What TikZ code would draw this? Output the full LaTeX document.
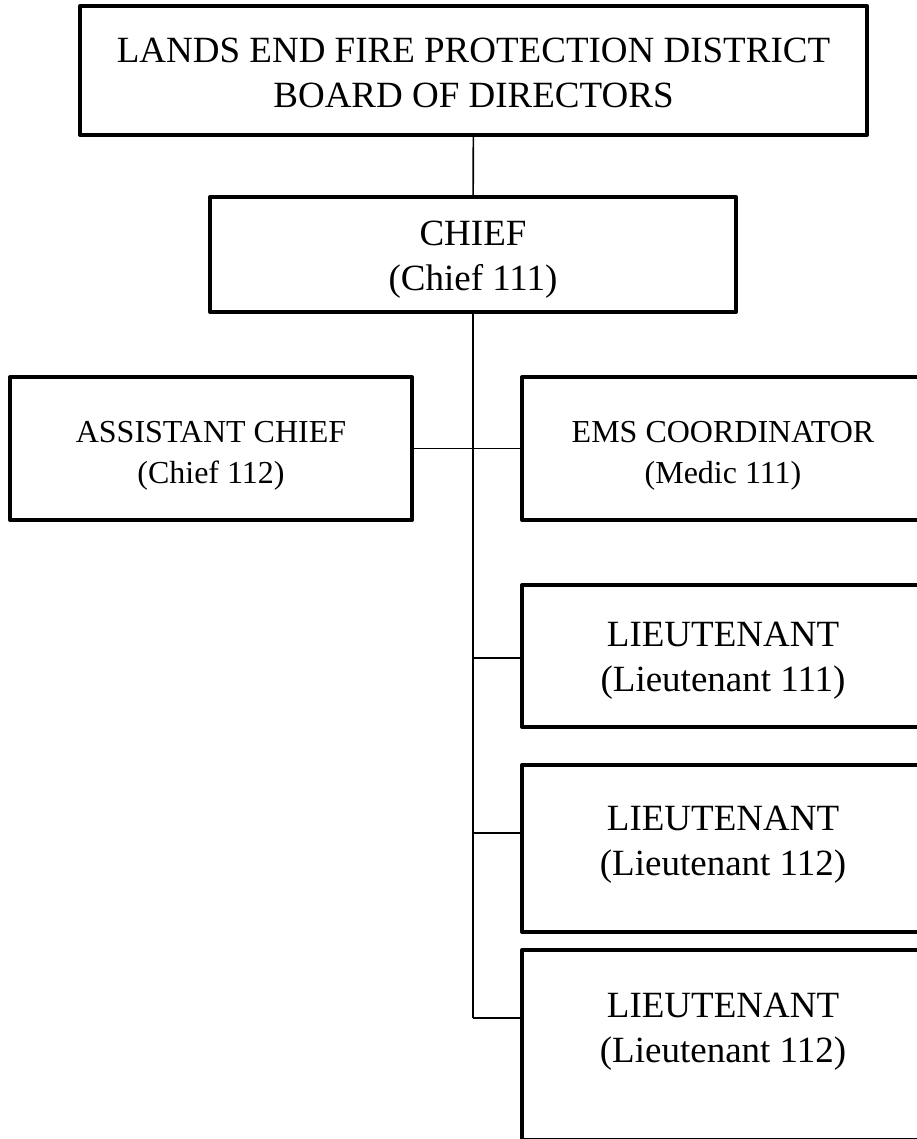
\documentclass[tikz,border=0pt]{standalone}
\usepackage{fontspec}
\setmainfont{Liberation Serif}
\newcommand{\toppad}[1]{\rule{0pt}{#1}}
\newcommand{\lowpad}[1]{\rule[-#1]{0pt}{0pt}}

\begin{document}
\begin{tikzpicture}[x=1pt,y=-1pt]
\tikzset{box/.style = {draw, line width=4pt, line join=round, align=center, inner sep=0pt}}
\tikzset{big/.style = {font=\fontsize{37}{45}\selectfont}}
\tikzset{small/.style = {font=\fontsize{32}{41}\selectfont}}
\tikzset{link/.style = {line width=1.6pt}}
\useasboundingbox (0,0) rectangle (917,1139);
\clip (0,0) rectangle (917,1139);
% boxes
\node[box, big, minimum width=787, minimum height=129] (board) at (473.5,70.5) {\toppad{30pt}LANDS END FIRE PROTECTION DISTRICT\\BOARD OF DIRECTORS};
\node[box, big, minimum width=526, minimum height=115] (chief) at (473,254.5) {\toppad{34pt}CHIEF\\(Chief 111)};
\node[box, small, minimum width=402, minimum height=143] (asst) at (211,448.5) {\toppad{35pt}ASSISTANT CHIEF\\(Chief 112)};
\node[box, small, minimum width=402, minimum height=143] (ems) at (723,448.5) {\toppad{35pt}EMS COORDINATOR\\(Medic 111)};
\node[box, big, minimum width=402, minimum height=142] (lt1) at (723,656) {\toppad{33pt}LIEUTENANT\\(Lieutenant 111)};
\node[box, big, minimum width=402, minimum height=167] (lt2) at (723,848.5) {\toppad{33pt}LIEUTENANT\\(Lieutenant 112)\lowpad{25pt}};
\node[box, big, minimum width=402, minimum height=190] (lt3) at (723,1045) {\toppad{33pt}LIEUTENANT\\(Lieutenant 112)\lowpad{44pt}};
% junctions on the trunk
\coordinate (j1) at (473,658);
\coordinate (j2) at (473,833);
\coordinate (j3) at (473,1018);
% edges
\draw[link] (board) -- (chief);
\draw[link] (chief) -- (j3);
\draw[link] (asst) -- (ems);
\draw[link] (j1) -- (lt1.west |- j1);
\draw[link] (j2) -- (lt2.west |- j2);
\draw[link] (j3) -- (lt3.west |- j3);
\end{tikzpicture}
\end{document}
